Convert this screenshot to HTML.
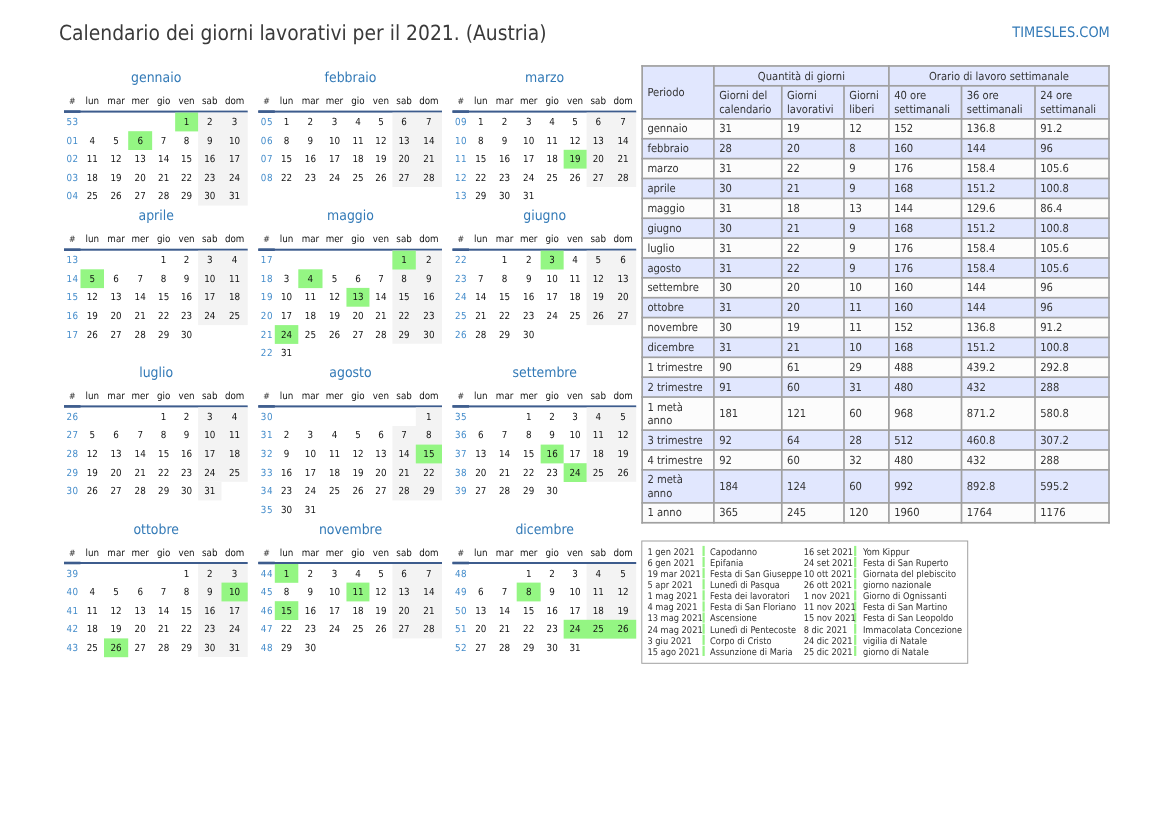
<!DOCTYPE html>
<html lang="it"><head><meta charset="utf-8"><title>Calendario dei giorni lavorativi per il 2021. (Austria)</title>
<style>
html,body{margin:0;padding:0;background:#fff;}
body{text-rendering:geometricPrecision;font-stretch:condensed;font-family:"DejaVu Sans Condensed","DejaVu Sans","Liberation Sans",sans-serif;color:#333;}
svg.bg{position:absolute;left:0;top:0;}
.page{position:relative;width:1169px;height:827px;overflow:hidden;background:#fff;}
.title{position:absolute;left:59px;top:20.5px;font-size:20.83px;line-height:24px;color:#3a3a3a;white-space:nowrap;}
.site{position:absolute;right:59.2px;top:24.2px;font-size:14.42px;line-height:18px;color:#337ab7;white-space:nowrap;}
.mo{position:absolute;width:183.7px;}
.mt{height:30px;line-height:30px;text-align:center;font-size:13.89px;color:#337ab7;padding-left:0.7px;padding-top:0.5px;box-sizing:border-box;}
.hd{position:relative;height:18px;font-size:9.72px;line-height:18px;color:#111;}
.ul{height:2px;}
.wk{position:relative;height:18.6px;font-size:9.72px;line-height:18px;color:#111;}
.hd span,.wk span{position:absolute;top:0;height:100%;text-align:center;box-sizing:border-box;}
.wk span{padding-top:1.5px;}
.hd span{padding-top:0.6px;}
.hd .c0{font-size:8.7px;line-height:18.6px;color:#3a3a3a;}
.c0{left:0px;width:16.5px}.c1{left:16.5px;width:23.5px}.c2{left:40px;width:24.2px}.c3{left:64.2px;width:23.95px}.c4{left:88.15px;width:23px}.c5{left:111.15px;width:22.95px}.c6{left:134.1px;width:23.4px}.c7{left:157.5px;width:26.2px}
.wk .wn{color:#428bca;letter-spacing:0.5px;padding-left:0.7px;}
.st{position:absolute;font-size:11.11px;color:#333;height:460px;}
.ce{position:absolute;display:flex;align-items:center;line-height:13.3px;}
.ce span{padding-left:4.4px;position:relative;top:0.3px;}
.ce.ctr{justify-content:center;}
.ce.ctr span{padding:0;}
.hl{position:absolute;left:642.3px;top:541.3px;width:324.9px;height:121.5px;font-size:9.2px;color:#333;}
.hr{position:relative;height:11.1px;line-height:11px;white-space:nowrap;}
.hr span{position:absolute;top:0;}
.hl .hr:first-child{margin-top:5.6px;}
.d1{left:5.2px;}.n1{left:67.8px;}.d2{left:161.4px;}.n2{left:220.6px;}

</style></head><body>
<div class="page">
<div class="title">Calendario dei giorni lavorativi per il 2021. (Austria)</div>
<div class="site">TIMESLES.COM</div>
<svg class="bg" width="1169" height="827" viewBox="0 0 1169 827"><rect x="64" y="110.6" width="183.7" height="2" fill="#3d5c8d"/><rect x="64" y="110.3" width="16.5" height="2.6" fill="#3d5c8d"/><rect x="198.1" y="112.6" width="49.6" height="93" fill="#f3f3f3"/><rect x="175.15" y="112.6" width="22.95" height="18.8" fill="#94f683"/><rect x="128.2" y="131.2" width="23.95" height="18.8" fill="#94f683"/><rect x="258.3" y="110.6" width="183.7" height="2" fill="#3d5c8d"/><rect x="258.3" y="110.3" width="16.5" height="2.6" fill="#3d5c8d"/><rect x="392.4" y="112.6" width="49.6" height="74.4" fill="#f3f3f3"/><rect x="452.5" y="110.6" width="183.7" height="2" fill="#3d5c8d"/><rect x="452.5" y="110.3" width="16.5" height="2.6" fill="#3d5c8d"/><rect x="586.6" y="112.6" width="49.6" height="74.4" fill="#f3f3f3"/><rect x="563.65" y="149.8" width="22.95" height="18.8" fill="#94f683"/><rect x="64" y="248.7" width="183.7" height="2" fill="#3d5c8d"/><rect x="64" y="248.4" width="16.5" height="2.6" fill="#3d5c8d"/><rect x="198.1" y="250.7" width="49.6" height="74.4" fill="#f3f3f3"/><rect x="80.5" y="269.3" width="23.5" height="18.8" fill="#94f683"/><rect x="258.3" y="248.7" width="183.7" height="2" fill="#3d5c8d"/><rect x="258.3" y="248.4" width="16.5" height="2.6" fill="#3d5c8d"/><rect x="392.4" y="250.7" width="49.6" height="93" fill="#f3f3f3"/><rect x="392.4" y="250.7" width="23.4" height="18.8" fill="#94f683"/><rect x="298.3" y="269.3" width="24.2" height="18.8" fill="#94f683"/><rect x="346.45" y="287.9" width="23" height="18.8" fill="#94f683"/><rect x="274.8" y="325.1" width="23.5" height="18.8" fill="#94f683"/><rect x="452.5" y="248.7" width="183.7" height="2" fill="#3d5c8d"/><rect x="452.5" y="248.4" width="16.5" height="2.6" fill="#3d5c8d"/><rect x="586.6" y="250.7" width="49.6" height="74.4" fill="#f3f3f3"/><rect x="540.65" y="250.7" width="23" height="18.8" fill="#94f683"/><rect x="64" y="405.4" width="183.7" height="2" fill="#3d5c8d"/><rect x="64" y="405.1" width="16.5" height="2.6" fill="#3d5c8d"/><rect x="198.1" y="407.4" width="49.6" height="74.4" fill="#f3f3f3"/><rect x="198.1" y="481.8" width="23.4" height="18.6" fill="#f3f3f3"/><rect x="258.3" y="405.4" width="183.7" height="2" fill="#3d5c8d"/><rect x="258.3" y="405.1" width="16.5" height="2.6" fill="#3d5c8d"/><rect x="415.8" y="407.4" width="26.2" height="18.6" fill="#f3f3f3"/><rect x="392.4" y="426" width="49.6" height="74.4" fill="#f3f3f3"/><rect x="415.8" y="444.6" width="26.2" height="18.8" fill="#94f683"/><rect x="452.5" y="405.4" width="183.7" height="2" fill="#3d5c8d"/><rect x="452.5" y="405.1" width="16.5" height="2.6" fill="#3d5c8d"/><rect x="586.6" y="407.4" width="49.6" height="74.4" fill="#f3f3f3"/><rect x="540.65" y="444.6" width="23" height="18.8" fill="#94f683"/><rect x="563.65" y="463.2" width="22.95" height="18.8" fill="#94f683"/><rect x="64" y="562" width="183.7" height="2" fill="#3d5c8d"/><rect x="64" y="561.7" width="16.5" height="2.6" fill="#3d5c8d"/><rect x="198.1" y="564" width="49.6" height="93" fill="#f3f3f3"/><rect x="221.5" y="582.6" width="26.2" height="18.8" fill="#94f683"/><rect x="104" y="638.4" width="24.2" height="18.8" fill="#94f683"/><rect x="258.3" y="562" width="183.7" height="2" fill="#3d5c8d"/><rect x="258.3" y="561.7" width="16.5" height="2.6" fill="#3d5c8d"/><rect x="392.4" y="564" width="49.6" height="74.4" fill="#f3f3f3"/><rect x="274.8" y="564" width="23.5" height="18.8" fill="#94f683"/><rect x="346.45" y="582.6" width="23" height="18.8" fill="#94f683"/><rect x="274.8" y="601.2" width="23.5" height="18.8" fill="#94f683"/><rect x="452.5" y="562" width="183.7" height="2" fill="#3d5c8d"/><rect x="452.5" y="561.7" width="16.5" height="2.6" fill="#3d5c8d"/><rect x="586.6" y="564" width="49.6" height="74.4" fill="#f3f3f3"/><rect x="516.7" y="582.6" width="23.95" height="18.8" fill="#94f683"/><rect x="563.65" y="619.8" width="72.55" height="18.8" fill="#94f683"/><rect x="642.15" y="65.95" width="466.85" height="52.92" fill="#e1e7fe"/><rect x="642.15" y="118.87" width="466.85" height="19.87" fill="#fcfcfc"/><rect x="642.15" y="138.74" width="466.85" height="19.87" fill="#e1e7fe"/><rect x="642.15" y="158.61" width="466.85" height="19.87" fill="#fcfcfc"/><rect x="642.15" y="178.48" width="466.85" height="19.87" fill="#e1e7fe"/><rect x="642.15" y="198.35" width="466.85" height="19.87" fill="#fcfcfc"/><rect x="642.15" y="218.22" width="466.85" height="19.87" fill="#e1e7fe"/><rect x="642.15" y="238.09" width="466.85" height="19.87" fill="#fcfcfc"/><rect x="642.15" y="257.96" width="466.85" height="19.87" fill="#e1e7fe"/><rect x="642.15" y="277.83" width="466.85" height="19.87" fill="#fcfcfc"/><rect x="642.15" y="297.7" width="466.85" height="19.87" fill="#e1e7fe"/><rect x="642.15" y="317.57" width="466.85" height="19.87" fill="#fcfcfc"/><rect x="642.15" y="337.44" width="466.85" height="19.87" fill="#e1e7fe"/><rect x="642.15" y="357.31" width="466.85" height="19.87" fill="#fcfcfc"/><rect x="642.15" y="377.18" width="466.85" height="19.87" fill="#e1e7fe"/><rect x="642.15" y="397.05" width="466.85" height="33.05" fill="#fcfcfc"/><rect x="642.15" y="430.1" width="466.85" height="19.87" fill="#e1e7fe"/><rect x="642.15" y="449.97" width="466.85" height="19.87" fill="#fcfcfc"/><rect x="642.15" y="469.84" width="466.85" height="33.05" fill="#e1e7fe"/><rect x="642.15" y="502.89" width="466.85" height="19.87" fill="#fcfcfc"/><rect x="641.3" y="65.1" width="468.55" height="1.7" fill="#a0a0a0"/><rect x="713.9" y="84.97" width="395.1" height="1.7" fill="#a0a0a0"/><rect x="641.3" y="118.02" width="468.55" height="1.7" fill="#a0a0a0"/><rect x="641.3" y="137.89" width="468.55" height="1.7" fill="#a0a0a0"/><rect x="641.3" y="157.76" width="468.55" height="1.7" fill="#a0a0a0"/><rect x="641.3" y="177.63" width="468.55" height="1.7" fill="#a0a0a0"/><rect x="641.3" y="197.5" width="468.55" height="1.7" fill="#a0a0a0"/><rect x="641.3" y="217.37" width="468.55" height="1.7" fill="#a0a0a0"/><rect x="641.3" y="237.24" width="468.55" height="1.7" fill="#a0a0a0"/><rect x="641.3" y="257.11" width="468.55" height="1.7" fill="#a0a0a0"/><rect x="641.3" y="276.98" width="468.55" height="1.7" fill="#a0a0a0"/><rect x="641.3" y="296.85" width="468.55" height="1.7" fill="#a0a0a0"/><rect x="641.3" y="316.72" width="468.55" height="1.7" fill="#a0a0a0"/><rect x="641.3" y="336.59" width="468.55" height="1.7" fill="#a0a0a0"/><rect x="641.3" y="356.46" width="468.55" height="1.7" fill="#a0a0a0"/><rect x="641.3" y="376.33" width="468.55" height="1.7" fill="#a0a0a0"/><rect x="641.3" y="396.2" width="468.55" height="1.7" fill="#a0a0a0"/><rect x="641.3" y="429.25" width="468.55" height="1.7" fill="#a0a0a0"/><rect x="641.3" y="449.12" width="468.55" height="1.7" fill="#a0a0a0"/><rect x="641.3" y="468.99" width="468.55" height="1.7" fill="#a0a0a0"/><rect x="641.3" y="502.04" width="468.55" height="1.7" fill="#a0a0a0"/><rect x="641.3" y="521.91" width="468.55" height="1.7" fill="#a0a0a0"/><rect x="641.3" y="65.1" width="1.7" height="458.51" fill="#a0a0a0"/><rect x="713.05" y="65.1" width="1.7" height="458.51" fill="#a0a0a0"/><rect x="780.95" y="84.97" width="1.7" height="438.64" fill="#a0a0a0"/><rect x="843.15" y="84.97" width="1.7" height="438.64" fill="#a0a0a0"/><rect x="888.05" y="65.1" width="1.7" height="458.51" fill="#a0a0a0"/><rect x="960.65" y="84.97" width="1.7" height="438.64" fill="#a0a0a0"/><rect x="1034.15" y="84.97" width="1.7" height="438.64" fill="#a0a0a0"/><rect x="1108.15" y="65.1" width="1.7" height="458.51" fill="#a0a0a0"/><rect x="641.8" y="541.0" width="325.9" height="122.3" fill="none" stroke="#a0a0a0" stroke-width="1"/><rect x="702.5" y="545.9" width="2.2" height="10.2" fill="#96f486"/><rect x="854.1" y="545.9" width="2.2" height="10.2" fill="#96f486"/><rect x="702.5" y="557" width="2.2" height="10.2" fill="#96f486"/><rect x="854.1" y="557" width="2.2" height="10.2" fill="#96f486"/><rect x="702.5" y="568.1" width="2.2" height="10.2" fill="#96f486"/><rect x="854.1" y="568.1" width="2.2" height="10.2" fill="#96f486"/><rect x="702.5" y="579.2" width="2.2" height="10.2" fill="#96f486"/><rect x="854.1" y="579.2" width="2.2" height="10.2" fill="#96f486"/><rect x="702.5" y="590.3" width="2.2" height="10.2" fill="#96f486"/><rect x="854.1" y="590.3" width="2.2" height="10.2" fill="#96f486"/><rect x="702.5" y="601.4" width="2.2" height="10.2" fill="#96f486"/><rect x="854.1" y="601.4" width="2.2" height="10.2" fill="#96f486"/><rect x="702.5" y="612.5" width="2.2" height="10.2" fill="#96f486"/><rect x="854.1" y="612.5" width="2.2" height="10.2" fill="#96f486"/><rect x="702.5" y="623.6" width="2.2" height="10.2" fill="#96f486"/><rect x="854.1" y="623.6" width="2.2" height="10.2" fill="#96f486"/><rect x="702.5" y="634.7" width="2.2" height="10.2" fill="#96f486"/><rect x="854.1" y="634.7" width="2.2" height="10.2" fill="#96f486"/><rect x="702.5" y="645.8" width="2.2" height="10.2" fill="#96f486"/><rect x="854.1" y="645.8" width="2.2" height="10.2" fill="#96f486"/></svg>
<div class="mo" style="left:64px;top:62.6px"><div class="mt">gennaio</div><div class="hd"><span class="c0">#</span><span class="c1">lun</span><span class="c2">mar</span><span class="c3">mer</span><span class="c4">gio</span><span class="c5">ven</span><span class="c6">sab</span><span class="c7">dom</span></div><div class="ul"></div><div class="wk"><span class="c0 wn">53</span><span class="c1"></span><span class="c2"></span><span class="c3"></span><span class="c4"></span><span class="c5 h">1</span><span class="c6 we">2</span><span class="c7 we">3</span></div><div class="wk"><span class="c0 wn">01</span><span class="c1">4</span><span class="c2">5</span><span class="c3 h">6</span><span class="c4">7</span><span class="c5">8</span><span class="c6 we">9</span><span class="c7 we">10</span></div><div class="wk"><span class="c0 wn">02</span><span class="c1">11</span><span class="c2">12</span><span class="c3">13</span><span class="c4">14</span><span class="c5">15</span><span class="c6 we">16</span><span class="c7 we">17</span></div><div class="wk"><span class="c0 wn">03</span><span class="c1">18</span><span class="c2">19</span><span class="c3">20</span><span class="c4">21</span><span class="c5">22</span><span class="c6 we">23</span><span class="c7 we">24</span></div><div class="wk"><span class="c0 wn">04</span><span class="c1">25</span><span class="c2">26</span><span class="c3">27</span><span class="c4">28</span><span class="c5">29</span><span class="c6 we">30</span><span class="c7 we">31</span></div></div><div class="mo" style="left:258.3px;top:62.6px"><div class="mt">febbraio</div><div class="hd"><span class="c0">#</span><span class="c1">lun</span><span class="c2">mar</span><span class="c3">mer</span><span class="c4">gio</span><span class="c5">ven</span><span class="c6">sab</span><span class="c7">dom</span></div><div class="ul"></div><div class="wk"><span class="c0 wn">05</span><span class="c1">1</span><span class="c2">2</span><span class="c3">3</span><span class="c4">4</span><span class="c5">5</span><span class="c6 we">6</span><span class="c7 we">7</span></div><div class="wk"><span class="c0 wn">06</span><span class="c1">8</span><span class="c2">9</span><span class="c3">10</span><span class="c4">11</span><span class="c5">12</span><span class="c6 we">13</span><span class="c7 we">14</span></div><div class="wk"><span class="c0 wn">07</span><span class="c1">15</span><span class="c2">16</span><span class="c3">17</span><span class="c4">18</span><span class="c5">19</span><span class="c6 we">20</span><span class="c7 we">21</span></div><div class="wk"><span class="c0 wn">08</span><span class="c1">22</span><span class="c2">23</span><span class="c3">24</span><span class="c4">25</span><span class="c5">26</span><span class="c6 we">27</span><span class="c7 we">28</span></div></div><div class="mo" style="left:452.5px;top:62.6px"><div class="mt">marzo</div><div class="hd"><span class="c0">#</span><span class="c1">lun</span><span class="c2">mar</span><span class="c3">mer</span><span class="c4">gio</span><span class="c5">ven</span><span class="c6">sab</span><span class="c7">dom</span></div><div class="ul"></div><div class="wk"><span class="c0 wn">09</span><span class="c1">1</span><span class="c2">2</span><span class="c3">3</span><span class="c4">4</span><span class="c5">5</span><span class="c6 we">6</span><span class="c7 we">7</span></div><div class="wk"><span class="c0 wn">10</span><span class="c1">8</span><span class="c2">9</span><span class="c3">10</span><span class="c4">11</span><span class="c5">12</span><span class="c6 we">13</span><span class="c7 we">14</span></div><div class="wk"><span class="c0 wn">11</span><span class="c1">15</span><span class="c2">16</span><span class="c3">17</span><span class="c4">18</span><span class="c5 h">19</span><span class="c6 we">20</span><span class="c7 we">21</span></div><div class="wk"><span class="c0 wn">12</span><span class="c1">22</span><span class="c2">23</span><span class="c3">24</span><span class="c4">25</span><span class="c5">26</span><span class="c6 we">27</span><span class="c7 we">28</span></div><div class="wk"><span class="c0 wn">13</span><span class="c1">29</span><span class="c2">30</span><span class="c3">31</span><span class="c4"></span><span class="c5"></span><span class="c6"></span><span class="c7"></span></div></div><div class="mo" style="left:64px;top:200.7px"><div class="mt">aprile</div><div class="hd"><span class="c0">#</span><span class="c1">lun</span><span class="c2">mar</span><span class="c3">mer</span><span class="c4">gio</span><span class="c5">ven</span><span class="c6">sab</span><span class="c7">dom</span></div><div class="ul"></div><div class="wk"><span class="c0 wn">13</span><span class="c1"></span><span class="c2"></span><span class="c3"></span><span class="c4">1</span><span class="c5">2</span><span class="c6 we">3</span><span class="c7 we">4</span></div><div class="wk"><span class="c0 wn">14</span><span class="c1 h">5</span><span class="c2">6</span><span class="c3">7</span><span class="c4">8</span><span class="c5">9</span><span class="c6 we">10</span><span class="c7 we">11</span></div><div class="wk"><span class="c0 wn">15</span><span class="c1">12</span><span class="c2">13</span><span class="c3">14</span><span class="c4">15</span><span class="c5">16</span><span class="c6 we">17</span><span class="c7 we">18</span></div><div class="wk"><span class="c0 wn">16</span><span class="c1">19</span><span class="c2">20</span><span class="c3">21</span><span class="c4">22</span><span class="c5">23</span><span class="c6 we">24</span><span class="c7 we">25</span></div><div class="wk"><span class="c0 wn">17</span><span class="c1">26</span><span class="c2">27</span><span class="c3">28</span><span class="c4">29</span><span class="c5">30</span><span class="c6"></span><span class="c7"></span></div></div><div class="mo" style="left:258.3px;top:200.7px"><div class="mt">maggio</div><div class="hd"><span class="c0">#</span><span class="c1">lun</span><span class="c2">mar</span><span class="c3">mer</span><span class="c4">gio</span><span class="c5">ven</span><span class="c6">sab</span><span class="c7">dom</span></div><div class="ul"></div><div class="wk"><span class="c0 wn">17</span><span class="c1"></span><span class="c2"></span><span class="c3"></span><span class="c4"></span><span class="c5"></span><span class="c6 h">1</span><span class="c7 we">2</span></div><div class="wk"><span class="c0 wn">18</span><span class="c1">3</span><span class="c2 h">4</span><span class="c3">5</span><span class="c4">6</span><span class="c5">7</span><span class="c6 we">8</span><span class="c7 we">9</span></div><div class="wk"><span class="c0 wn">19</span><span class="c1">10</span><span class="c2">11</span><span class="c3">12</span><span class="c4 h">13</span><span class="c5">14</span><span class="c6 we">15</span><span class="c7 we">16</span></div><div class="wk"><span class="c0 wn">20</span><span class="c1">17</span><span class="c2">18</span><span class="c3">19</span><span class="c4">20</span><span class="c5">21</span><span class="c6 we">22</span><span class="c7 we">23</span></div><div class="wk"><span class="c0 wn">21</span><span class="c1 h">24</span><span class="c2">25</span><span class="c3">26</span><span class="c4">27</span><span class="c5">28</span><span class="c6 we">29</span><span class="c7 we">30</span></div><div class="wk"><span class="c0 wn">22</span><span class="c1">31</span><span class="c2"></span><span class="c3"></span><span class="c4"></span><span class="c5"></span><span class="c6"></span><span class="c7"></span></div></div><div class="mo" style="left:452.5px;top:200.7px"><div class="mt">giugno</div><div class="hd"><span class="c0">#</span><span class="c1">lun</span><span class="c2">mar</span><span class="c3">mer</span><span class="c4">gio</span><span class="c5">ven</span><span class="c6">sab</span><span class="c7">dom</span></div><div class="ul"></div><div class="wk"><span class="c0 wn">22</span><span class="c1"></span><span class="c2">1</span><span class="c3">2</span><span class="c4 h">3</span><span class="c5">4</span><span class="c6 we">5</span><span class="c7 we">6</span></div><div class="wk"><span class="c0 wn">23</span><span class="c1">7</span><span class="c2">8</span><span class="c3">9</span><span class="c4">10</span><span class="c5">11</span><span class="c6 we">12</span><span class="c7 we">13</span></div><div class="wk"><span class="c0 wn">24</span><span class="c1">14</span><span class="c2">15</span><span class="c3">16</span><span class="c4">17</span><span class="c5">18</span><span class="c6 we">19</span><span class="c7 we">20</span></div><div class="wk"><span class="c0 wn">25</span><span class="c1">21</span><span class="c2">22</span><span class="c3">23</span><span class="c4">24</span><span class="c5">25</span><span class="c6 we">26</span><span class="c7 we">27</span></div><div class="wk"><span class="c0 wn">26</span><span class="c1">28</span><span class="c2">29</span><span class="c3">30</span><span class="c4"></span><span class="c5"></span><span class="c6"></span><span class="c7"></span></div></div><div class="mo" style="left:64px;top:357.4px"><div class="mt">luglio</div><div class="hd"><span class="c0">#</span><span class="c1">lun</span><span class="c2">mar</span><span class="c3">mer</span><span class="c4">gio</span><span class="c5">ven</span><span class="c6">sab</span><span class="c7">dom</span></div><div class="ul"></div><div class="wk"><span class="c0 wn">26</span><span class="c1"></span><span class="c2"></span><span class="c3"></span><span class="c4">1</span><span class="c5">2</span><span class="c6 we">3</span><span class="c7 we">4</span></div><div class="wk"><span class="c0 wn">27</span><span class="c1">5</span><span class="c2">6</span><span class="c3">7</span><span class="c4">8</span><span class="c5">9</span><span class="c6 we">10</span><span class="c7 we">11</span></div><div class="wk"><span class="c0 wn">28</span><span class="c1">12</span><span class="c2">13</span><span class="c3">14</span><span class="c4">15</span><span class="c5">16</span><span class="c6 we">17</span><span class="c7 we">18</span></div><div class="wk"><span class="c0 wn">29</span><span class="c1">19</span><span class="c2">20</span><span class="c3">21</span><span class="c4">22</span><span class="c5">23</span><span class="c6 we">24</span><span class="c7 we">25</span></div><div class="wk"><span class="c0 wn">30</span><span class="c1">26</span><span class="c2">27</span><span class="c3">28</span><span class="c4">29</span><span class="c5">30</span><span class="c6 we">31</span><span class="c7"></span></div></div><div class="mo" style="left:258.3px;top:357.4px"><div class="mt">agosto</div><div class="hd"><span class="c0">#</span><span class="c1">lun</span><span class="c2">mar</span><span class="c3">mer</span><span class="c4">gio</span><span class="c5">ven</span><span class="c6">sab</span><span class="c7">dom</span></div><div class="ul"></div><div class="wk"><span class="c0 wn">30</span><span class="c1"></span><span class="c2"></span><span class="c3"></span><span class="c4"></span><span class="c5"></span><span class="c6"></span><span class="c7 we">1</span></div><div class="wk"><span class="c0 wn">31</span><span class="c1">2</span><span class="c2">3</span><span class="c3">4</span><span class="c4">5</span><span class="c5">6</span><span class="c6 we">7</span><span class="c7 we">8</span></div><div class="wk"><span class="c0 wn">32</span><span class="c1">9</span><span class="c2">10</span><span class="c3">11</span><span class="c4">12</span><span class="c5">13</span><span class="c6 we">14</span><span class="c7 h">15</span></div><div class="wk"><span class="c0 wn">33</span><span class="c1">16</span><span class="c2">17</span><span class="c3">18</span><span class="c4">19</span><span class="c5">20</span><span class="c6 we">21</span><span class="c7 we">22</span></div><div class="wk"><span class="c0 wn">34</span><span class="c1">23</span><span class="c2">24</span><span class="c3">25</span><span class="c4">26</span><span class="c5">27</span><span class="c6 we">28</span><span class="c7 we">29</span></div><div class="wk"><span class="c0 wn">35</span><span class="c1">30</span><span class="c2">31</span><span class="c3"></span><span class="c4"></span><span class="c5"></span><span class="c6"></span><span class="c7"></span></div></div><div class="mo" style="left:452.5px;top:357.4px"><div class="mt">settembre</div><div class="hd"><span class="c0">#</span><span class="c1">lun</span><span class="c2">mar</span><span class="c3">mer</span><span class="c4">gio</span><span class="c5">ven</span><span class="c6">sab</span><span class="c7">dom</span></div><div class="ul"></div><div class="wk"><span class="c0 wn">35</span><span class="c1"></span><span class="c2"></span><span class="c3">1</span><span class="c4">2</span><span class="c5">3</span><span class="c6 we">4</span><span class="c7 we">5</span></div><div class="wk"><span class="c0 wn">36</span><span class="c1">6</span><span class="c2">7</span><span class="c3">8</span><span class="c4">9</span><span class="c5">10</span><span class="c6 we">11</span><span class="c7 we">12</span></div><div class="wk"><span class="c0 wn">37</span><span class="c1">13</span><span class="c2">14</span><span class="c3">15</span><span class="c4 h">16</span><span class="c5">17</span><span class="c6 we">18</span><span class="c7 we">19</span></div><div class="wk"><span class="c0 wn">38</span><span class="c1">20</span><span class="c2">21</span><span class="c3">22</span><span class="c4">23</span><span class="c5 h">24</span><span class="c6 we">25</span><span class="c7 we">26</span></div><div class="wk"><span class="c0 wn">39</span><span class="c1">27</span><span class="c2">28</span><span class="c3">29</span><span class="c4">30</span><span class="c5"></span><span class="c6"></span><span class="c7"></span></div></div><div class="mo" style="left:64px;top:514px"><div class="mt">ottobre</div><div class="hd"><span class="c0">#</span><span class="c1">lun</span><span class="c2">mar</span><span class="c3">mer</span><span class="c4">gio</span><span class="c5">ven</span><span class="c6">sab</span><span class="c7">dom</span></div><div class="ul"></div><div class="wk"><span class="c0 wn">39</span><span class="c1"></span><span class="c2"></span><span class="c3"></span><span class="c4"></span><span class="c5">1</span><span class="c6 we">2</span><span class="c7 we">3</span></div><div class="wk"><span class="c0 wn">40</span><span class="c1">4</span><span class="c2">5</span><span class="c3">6</span><span class="c4">7</span><span class="c5">8</span><span class="c6 we">9</span><span class="c7 h">10</span></div><div class="wk"><span class="c0 wn">41</span><span class="c1">11</span><span class="c2">12</span><span class="c3">13</span><span class="c4">14</span><span class="c5">15</span><span class="c6 we">16</span><span class="c7 we">17</span></div><div class="wk"><span class="c0 wn">42</span><span class="c1">18</span><span class="c2">19</span><span class="c3">20</span><span class="c4">21</span><span class="c5">22</span><span class="c6 we">23</span><span class="c7 we">24</span></div><div class="wk"><span class="c0 wn">43</span><span class="c1">25</span><span class="c2 h">26</span><span class="c3">27</span><span class="c4">28</span><span class="c5">29</span><span class="c6 we">30</span><span class="c7 we">31</span></div></div><div class="mo" style="left:258.3px;top:514px"><div class="mt">novembre</div><div class="hd"><span class="c0">#</span><span class="c1">lun</span><span class="c2">mar</span><span class="c3">mer</span><span class="c4">gio</span><span class="c5">ven</span><span class="c6">sab</span><span class="c7">dom</span></div><div class="ul"></div><div class="wk"><span class="c0 wn">44</span><span class="c1 h">1</span><span class="c2">2</span><span class="c3">3</span><span class="c4">4</span><span class="c5">5</span><span class="c6 we">6</span><span class="c7 we">7</span></div><div class="wk"><span class="c0 wn">45</span><span class="c1">8</span><span class="c2">9</span><span class="c3">10</span><span class="c4 h">11</span><span class="c5">12</span><span class="c6 we">13</span><span class="c7 we">14</span></div><div class="wk"><span class="c0 wn">46</span><span class="c1 h">15</span><span class="c2">16</span><span class="c3">17</span><span class="c4">18</span><span class="c5">19</span><span class="c6 we">20</span><span class="c7 we">21</span></div><div class="wk"><span class="c0 wn">47</span><span class="c1">22</span><span class="c2">23</span><span class="c3">24</span><span class="c4">25</span><span class="c5">26</span><span class="c6 we">27</span><span class="c7 we">28</span></div><div class="wk"><span class="c0 wn">48</span><span class="c1">29</span><span class="c2">30</span><span class="c3"></span><span class="c4"></span><span class="c5"></span><span class="c6"></span><span class="c7"></span></div></div><div class="mo" style="left:452.5px;top:514px"><div class="mt">dicembre</div><div class="hd"><span class="c0">#</span><span class="c1">lun</span><span class="c2">mar</span><span class="c3">mer</span><span class="c4">gio</span><span class="c5">ven</span><span class="c6">sab</span><span class="c7">dom</span></div><div class="ul"></div><div class="wk"><span class="c0 wn">48</span><span class="c1"></span><span class="c2"></span><span class="c3">1</span><span class="c4">2</span><span class="c5">3</span><span class="c6 we">4</span><span class="c7 we">5</span></div><div class="wk"><span class="c0 wn">49</span><span class="c1">6</span><span class="c2">7</span><span class="c3 h">8</span><span class="c4">9</span><span class="c5">10</span><span class="c6 we">11</span><span class="c7 we">12</span></div><div class="wk"><span class="c0 wn">50</span><span class="c1">13</span><span class="c2">14</span><span class="c3">15</span><span class="c4">16</span><span class="c5">17</span><span class="c6 we">18</span><span class="c7 we">19</span></div><div class="wk"><span class="c0 wn">51</span><span class="c1">20</span><span class="c2">21</span><span class="c3">22</span><span class="c4">23</span><span class="c5 h">24</span><span class="c6 h">25</span><span class="c7 h">26</span></div><div class="wk"><span class="c0 wn">52</span><span class="c1">27</span><span class="c2">28</span><span class="c3">29</span><span class="c4">30</span><span class="c5">31</span><span class="c6"></span><span class="c7"></span></div></div>
<div class="st" style="left:641.3px;top:65.1px;width:468.55px"><div class="ce " style="left:1.7px;top:1.7px;width:70.05px;height:51.22px"><span>Periodo</span></div><div class="ce ctr" style="left:73.45px;top:1.7px;width:173.3px;height:18.17px"><span>Quantità di giorni</span></div><div class="ce ctr" style="left:248.45px;top:1.7px;width:218.4px;height:18.17px"><span>Orario di lavoro settimanale</span></div><div class="ce " style="left:73.45px;top:21.57px;width:66.2px;height:31.35px"><span>Giorni del<br>calendario</span></div><div class="ce " style="left:141.35px;top:21.57px;width:60.5px;height:31.35px"><span>Giorni<br>lavorativi</span></div><div class="ce " style="left:203.55px;top:21.57px;width:43.2px;height:31.35px"><span>Giorni<br>liberi</span></div><div class="ce " style="left:248.45px;top:21.57px;width:70.9px;height:31.35px"><span>40 ore<br>settimanali</span></div><div class="ce " style="left:321.05px;top:21.57px;width:71.8px;height:31.35px"><span>36 ore<br>settimanali</span></div><div class="ce " style="left:394.55px;top:21.57px;width:72.3px;height:31.35px"><span>24 ore<br>settimanali</span></div><div class="ce " style="left:1.7px;top:54.62px;width:70.05px;height:18.17px"><span>gennaio</span></div><div class="ce " style="left:73.45px;top:54.62px;width:66.2px;height:18.17px"><span>31</span></div><div class="ce " style="left:141.35px;top:54.62px;width:60.5px;height:18.17px"><span>19</span></div><div class="ce " style="left:203.55px;top:54.62px;width:43.2px;height:18.17px"><span>12</span></div><div class="ce " style="left:248.45px;top:54.62px;width:70.9px;height:18.17px"><span>152</span></div><div class="ce " style="left:321.05px;top:54.62px;width:71.8px;height:18.17px"><span>136.8</span></div><div class="ce " style="left:394.55px;top:54.62px;width:72.3px;height:18.17px"><span>91.2</span></div><div class="ce " style="left:1.7px;top:74.49px;width:70.05px;height:18.17px"><span>febbraio</span></div><div class="ce " style="left:73.45px;top:74.49px;width:66.2px;height:18.17px"><span>28</span></div><div class="ce " style="left:141.35px;top:74.49px;width:60.5px;height:18.17px"><span>20</span></div><div class="ce " style="left:203.55px;top:74.49px;width:43.2px;height:18.17px"><span>8</span></div><div class="ce " style="left:248.45px;top:74.49px;width:70.9px;height:18.17px"><span>160</span></div><div class="ce " style="left:321.05px;top:74.49px;width:71.8px;height:18.17px"><span>144</span></div><div class="ce " style="left:394.55px;top:74.49px;width:72.3px;height:18.17px"><span>96</span></div><div class="ce " style="left:1.7px;top:94.36px;width:70.05px;height:18.17px"><span>marzo</span></div><div class="ce " style="left:73.45px;top:94.36px;width:66.2px;height:18.17px"><span>31</span></div><div class="ce " style="left:141.35px;top:94.36px;width:60.5px;height:18.17px"><span>22</span></div><div class="ce " style="left:203.55px;top:94.36px;width:43.2px;height:18.17px"><span>9</span></div><div class="ce " style="left:248.45px;top:94.36px;width:70.9px;height:18.17px"><span>176</span></div><div class="ce " style="left:321.05px;top:94.36px;width:71.8px;height:18.17px"><span>158.4</span></div><div class="ce " style="left:394.55px;top:94.36px;width:72.3px;height:18.17px"><span>105.6</span></div><div class="ce " style="left:1.7px;top:114.23px;width:70.05px;height:18.17px"><span>aprile</span></div><div class="ce " style="left:73.45px;top:114.23px;width:66.2px;height:18.17px"><span>30</span></div><div class="ce " style="left:141.35px;top:114.23px;width:60.5px;height:18.17px"><span>21</span></div><div class="ce " style="left:203.55px;top:114.23px;width:43.2px;height:18.17px"><span>9</span></div><div class="ce " style="left:248.45px;top:114.23px;width:70.9px;height:18.17px"><span>168</span></div><div class="ce " style="left:321.05px;top:114.23px;width:71.8px;height:18.17px"><span>151.2</span></div><div class="ce " style="left:394.55px;top:114.23px;width:72.3px;height:18.17px"><span>100.8</span></div><div class="ce " style="left:1.7px;top:134.1px;width:70.05px;height:18.17px"><span>maggio</span></div><div class="ce " style="left:73.45px;top:134.1px;width:66.2px;height:18.17px"><span>31</span></div><div class="ce " style="left:141.35px;top:134.1px;width:60.5px;height:18.17px"><span>18</span></div><div class="ce " style="left:203.55px;top:134.1px;width:43.2px;height:18.17px"><span>13</span></div><div class="ce " style="left:248.45px;top:134.1px;width:70.9px;height:18.17px"><span>144</span></div><div class="ce " style="left:321.05px;top:134.1px;width:71.8px;height:18.17px"><span>129.6</span></div><div class="ce " style="left:394.55px;top:134.1px;width:72.3px;height:18.17px"><span>86.4</span></div><div class="ce " style="left:1.7px;top:153.97px;width:70.05px;height:18.17px"><span>giugno</span></div><div class="ce " style="left:73.45px;top:153.97px;width:66.2px;height:18.17px"><span>30</span></div><div class="ce " style="left:141.35px;top:153.97px;width:60.5px;height:18.17px"><span>21</span></div><div class="ce " style="left:203.55px;top:153.97px;width:43.2px;height:18.17px"><span>9</span></div><div class="ce " style="left:248.45px;top:153.97px;width:70.9px;height:18.17px"><span>168</span></div><div class="ce " style="left:321.05px;top:153.97px;width:71.8px;height:18.17px"><span>151.2</span></div><div class="ce " style="left:394.55px;top:153.97px;width:72.3px;height:18.17px"><span>100.8</span></div><div class="ce " style="left:1.7px;top:173.84px;width:70.05px;height:18.17px"><span>luglio</span></div><div class="ce " style="left:73.45px;top:173.84px;width:66.2px;height:18.17px"><span>31</span></div><div class="ce " style="left:141.35px;top:173.84px;width:60.5px;height:18.17px"><span>22</span></div><div class="ce " style="left:203.55px;top:173.84px;width:43.2px;height:18.17px"><span>9</span></div><div class="ce " style="left:248.45px;top:173.84px;width:70.9px;height:18.17px"><span>176</span></div><div class="ce " style="left:321.05px;top:173.84px;width:71.8px;height:18.17px"><span>158.4</span></div><div class="ce " style="left:394.55px;top:173.84px;width:72.3px;height:18.17px"><span>105.6</span></div><div class="ce " style="left:1.7px;top:193.71px;width:70.05px;height:18.17px"><span>agosto</span></div><div class="ce " style="left:73.45px;top:193.71px;width:66.2px;height:18.17px"><span>31</span></div><div class="ce " style="left:141.35px;top:193.71px;width:60.5px;height:18.17px"><span>22</span></div><div class="ce " style="left:203.55px;top:193.71px;width:43.2px;height:18.17px"><span>9</span></div><div class="ce " style="left:248.45px;top:193.71px;width:70.9px;height:18.17px"><span>176</span></div><div class="ce " style="left:321.05px;top:193.71px;width:71.8px;height:18.17px"><span>158.4</span></div><div class="ce " style="left:394.55px;top:193.71px;width:72.3px;height:18.17px"><span>105.6</span></div><div class="ce " style="left:1.7px;top:213.58px;width:70.05px;height:18.17px"><span>settembre</span></div><div class="ce " style="left:73.45px;top:213.58px;width:66.2px;height:18.17px"><span>30</span></div><div class="ce " style="left:141.35px;top:213.58px;width:60.5px;height:18.17px"><span>20</span></div><div class="ce " style="left:203.55px;top:213.58px;width:43.2px;height:18.17px"><span>10</span></div><div class="ce " style="left:248.45px;top:213.58px;width:70.9px;height:18.17px"><span>160</span></div><div class="ce " style="left:321.05px;top:213.58px;width:71.8px;height:18.17px"><span>144</span></div><div class="ce " style="left:394.55px;top:213.58px;width:72.3px;height:18.17px"><span>96</span></div><div class="ce " style="left:1.7px;top:233.45px;width:70.05px;height:18.17px"><span>ottobre</span></div><div class="ce " style="left:73.45px;top:233.45px;width:66.2px;height:18.17px"><span>31</span></div><div class="ce " style="left:141.35px;top:233.45px;width:60.5px;height:18.17px"><span>20</span></div><div class="ce " style="left:203.55px;top:233.45px;width:43.2px;height:18.17px"><span>11</span></div><div class="ce " style="left:248.45px;top:233.45px;width:70.9px;height:18.17px"><span>160</span></div><div class="ce " style="left:321.05px;top:233.45px;width:71.8px;height:18.17px"><span>144</span></div><div class="ce " style="left:394.55px;top:233.45px;width:72.3px;height:18.17px"><span>96</span></div><div class="ce " style="left:1.7px;top:253.32px;width:70.05px;height:18.17px"><span>novembre</span></div><div class="ce " style="left:73.45px;top:253.32px;width:66.2px;height:18.17px"><span>30</span></div><div class="ce " style="left:141.35px;top:253.32px;width:60.5px;height:18.17px"><span>19</span></div><div class="ce " style="left:203.55px;top:253.32px;width:43.2px;height:18.17px"><span>11</span></div><div class="ce " style="left:248.45px;top:253.32px;width:70.9px;height:18.17px"><span>152</span></div><div class="ce " style="left:321.05px;top:253.32px;width:71.8px;height:18.17px"><span>136.8</span></div><div class="ce " style="left:394.55px;top:253.32px;width:72.3px;height:18.17px"><span>91.2</span></div><div class="ce " style="left:1.7px;top:273.19px;width:70.05px;height:18.17px"><span>dicembre</span></div><div class="ce " style="left:73.45px;top:273.19px;width:66.2px;height:18.17px"><span>31</span></div><div class="ce " style="left:141.35px;top:273.19px;width:60.5px;height:18.17px"><span>21</span></div><div class="ce " style="left:203.55px;top:273.19px;width:43.2px;height:18.17px"><span>10</span></div><div class="ce " style="left:248.45px;top:273.19px;width:70.9px;height:18.17px"><span>168</span></div><div class="ce " style="left:321.05px;top:273.19px;width:71.8px;height:18.17px"><span>151.2</span></div><div class="ce " style="left:394.55px;top:273.19px;width:72.3px;height:18.17px"><span>100.8</span></div><div class="ce " style="left:1.7px;top:293.06px;width:70.05px;height:18.17px"><span>1 trimestre</span></div><div class="ce " style="left:73.45px;top:293.06px;width:66.2px;height:18.17px"><span>90</span></div><div class="ce " style="left:141.35px;top:293.06px;width:60.5px;height:18.17px"><span>61</span></div><div class="ce " style="left:203.55px;top:293.06px;width:43.2px;height:18.17px"><span>29</span></div><div class="ce " style="left:248.45px;top:293.06px;width:70.9px;height:18.17px"><span>488</span></div><div class="ce " style="left:321.05px;top:293.06px;width:71.8px;height:18.17px"><span>439.2</span></div><div class="ce " style="left:394.55px;top:293.06px;width:72.3px;height:18.17px"><span>292.8</span></div><div class="ce " style="left:1.7px;top:312.93px;width:70.05px;height:18.17px"><span>2 trimestre</span></div><div class="ce " style="left:73.45px;top:312.93px;width:66.2px;height:18.17px"><span>91</span></div><div class="ce " style="left:141.35px;top:312.93px;width:60.5px;height:18.17px"><span>60</span></div><div class="ce " style="left:203.55px;top:312.93px;width:43.2px;height:18.17px"><span>31</span></div><div class="ce " style="left:248.45px;top:312.93px;width:70.9px;height:18.17px"><span>480</span></div><div class="ce " style="left:321.05px;top:312.93px;width:71.8px;height:18.17px"><span>432</span></div><div class="ce " style="left:394.55px;top:312.93px;width:72.3px;height:18.17px"><span>288</span></div><div class="ce " style="left:1.7px;top:332.8px;width:70.05px;height:31.35px"><span>1 metà<br>anno</span></div><div class="ce " style="left:73.45px;top:332.8px;width:66.2px;height:31.35px"><span>181</span></div><div class="ce " style="left:141.35px;top:332.8px;width:60.5px;height:31.35px"><span>121</span></div><div class="ce " style="left:203.55px;top:332.8px;width:43.2px;height:31.35px"><span>60</span></div><div class="ce " style="left:248.45px;top:332.8px;width:70.9px;height:31.35px"><span>968</span></div><div class="ce " style="left:321.05px;top:332.8px;width:71.8px;height:31.35px"><span>871.2</span></div><div class="ce " style="left:394.55px;top:332.8px;width:72.3px;height:31.35px"><span>580.8</span></div><div class="ce " style="left:1.7px;top:365.85px;width:70.05px;height:18.17px"><span>3 trimestre</span></div><div class="ce " style="left:73.45px;top:365.85px;width:66.2px;height:18.17px"><span>92</span></div><div class="ce " style="left:141.35px;top:365.85px;width:60.5px;height:18.17px"><span>64</span></div><div class="ce " style="left:203.55px;top:365.85px;width:43.2px;height:18.17px"><span>28</span></div><div class="ce " style="left:248.45px;top:365.85px;width:70.9px;height:18.17px"><span>512</span></div><div class="ce " style="left:321.05px;top:365.85px;width:71.8px;height:18.17px"><span>460.8</span></div><div class="ce " style="left:394.55px;top:365.85px;width:72.3px;height:18.17px"><span>307.2</span></div><div class="ce " style="left:1.7px;top:385.72px;width:70.05px;height:18.17px"><span>4 trimestre</span></div><div class="ce " style="left:73.45px;top:385.72px;width:66.2px;height:18.17px"><span>92</span></div><div class="ce " style="left:141.35px;top:385.72px;width:60.5px;height:18.17px"><span>60</span></div><div class="ce " style="left:203.55px;top:385.72px;width:43.2px;height:18.17px"><span>32</span></div><div class="ce " style="left:248.45px;top:385.72px;width:70.9px;height:18.17px"><span>480</span></div><div class="ce " style="left:321.05px;top:385.72px;width:71.8px;height:18.17px"><span>432</span></div><div class="ce " style="left:394.55px;top:385.72px;width:72.3px;height:18.17px"><span>288</span></div><div class="ce " style="left:1.7px;top:405.59px;width:70.05px;height:31.35px"><span>2 metà<br>anno</span></div><div class="ce " style="left:73.45px;top:405.59px;width:66.2px;height:31.35px"><span>184</span></div><div class="ce " style="left:141.35px;top:405.59px;width:60.5px;height:31.35px"><span>124</span></div><div class="ce " style="left:203.55px;top:405.59px;width:43.2px;height:31.35px"><span>60</span></div><div class="ce " style="left:248.45px;top:405.59px;width:70.9px;height:31.35px"><span>992</span></div><div class="ce " style="left:321.05px;top:405.59px;width:71.8px;height:31.35px"><span>892.8</span></div><div class="ce " style="left:394.55px;top:405.59px;width:72.3px;height:31.35px"><span>595.2</span></div><div class="ce " style="left:1.7px;top:438.64px;width:70.05px;height:18.17px"><span>1 anno</span></div><div class="ce " style="left:73.45px;top:438.64px;width:66.2px;height:18.17px"><span>365</span></div><div class="ce " style="left:141.35px;top:438.64px;width:60.5px;height:18.17px"><span>245</span></div><div class="ce " style="left:203.55px;top:438.64px;width:43.2px;height:18.17px"><span>120</span></div><div class="ce " style="left:248.45px;top:438.64px;width:70.9px;height:18.17px"><span>1960</span></div><div class="ce " style="left:321.05px;top:438.64px;width:71.8px;height:18.17px"><span>1764</span></div><div class="ce " style="left:394.55px;top:438.64px;width:72.3px;height:18.17px"><span>1176</span></div></div>
<div class="hl"><div class="hr"><span class="d1">1 gen 2021</span><span class="n1">Capodanno</span><span class="d2">16 set 2021</span><span class="n2">Yom Kippur</span></div><div class="hr"><span class="d1">6 gen 2021</span><span class="n1">Epifania</span><span class="d2">24 set 2021</span><span class="n2">Festa di San Ruperto</span></div><div class="hr"><span class="d1">19 mar 2021</span><span class="n1">Festa di San Giuseppe</span><span class="d2">10 ott 2021</span><span class="n2">Giornata del plebiscito</span></div><div class="hr"><span class="d1">5 apr 2021</span><span class="n1">Lunedì di Pasqua</span><span class="d2">26 ott 2021</span><span class="n2">giorno nazionale</span></div><div class="hr"><span class="d1">1 mag 2021</span><span class="n1">Festa dei lavoratori</span><span class="d2">1 nov 2021</span><span class="n2">Giorno di Ognissanti</span></div><div class="hr"><span class="d1">4 mag 2021</span><span class="n1">Festa di San Floriano</span><span class="d2">11 nov 2021</span><span class="n2">Festa di San Martino</span></div><div class="hr"><span class="d1">13 mag 2021</span><span class="n1">Ascensione</span><span class="d2">15 nov 2021</span><span class="n2">Festa di San Leopoldo</span></div><div class="hr"><span class="d1">24 mag 2021</span><span class="n1">Lunedì di Pentecoste</span><span class="d2">8 dic 2021</span><span class="n2">Immacolata Concezione</span></div><div class="hr"><span class="d1">3 giu 2021</span><span class="n1">Corpo di Cristo</span><span class="d2">24 dic 2021</span><span class="n2">vigilia di Natale</span></div><div class="hr"><span class="d1">15 ago 2021</span><span class="n1">Assunzione di Maria</span><span class="d2">25 dic 2021</span><span class="n2">giorno di Natale</span></div></div>
</div>
</body></html>
